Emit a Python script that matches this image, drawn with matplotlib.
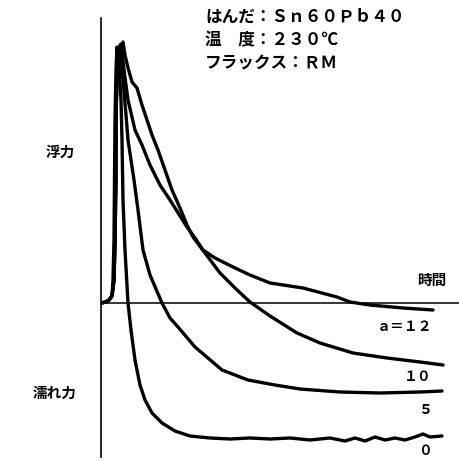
import matplotlib

matplotlib.use("Agg")
import matplotlib.pyplot as plt

plt.rcParams["font.family"] = ["Noto Sans CJK JP", "DejaVu Sans"]

W, H = 459, 461

# wetting balance curves: time (arb.) vs. force (arb.), positive = buoyancy
t_a0 = [0, 0.5, 0.8, 1.1, 1.2, 1.3, 1.35, 1.4, 1.5, 1.6, 1.8, 2.0, 2.1, 2.2, 2.4, 2.7,
        3.0, 3.4, 3.9, 4.4, 5.1, 6.1, 7.4, 8.9, 10.9, 12.9, 14.9, 16.9, 18.9, 20.9,
        22.9, 24.4, 25.4, 26.4, 27.4, 28.4, 29.4, 30.4, 31.4, 32.2, 32.9, 34.1]
f_a0 = [0, 0.1, 0.3, 0.7, 2.3, 6.3, 12.3, 18.3, 23.3, 25.6, 23.8, 20.3, 16.3, 10.3, 5.3, 0,
        -2.7, -5.7, -8.2, -9.7, -11.0, -12.0, -12.8, -13.3, -13.5, -13.6, -13.5, -13.6, -13.5, -13.7,
        -13.5, -13.8, -13.5, -13.8, -13.4, -13.7, -13.5, -13.7, -13.4, -13.1, -13.4, -13.3]

t_a5 = [0, 0.5, 0.8, 1.1, 1.3, 1.4, 1.45, 1.5, 1.6, 1.9, 2.2, 2.5, 2.7, 3.3, 3.7, 4.2,
        4.9, 6.1, 6.9, 7.7, 9.4, 12.1, 14.7, 17.4, 19.9, 23.9, 27.9, 31.9, 34.1]
f_a5 = [0, 0.1, 0.3, 0.7, 2.3, 6.3, 12.3, 18.3, 23.3, 25.8, 22.3, 18.8, 16.3, 12.3, 9.3, 5.3,
        2.8, 0, -1.5, -2.4, -4.4, -6.7, -7.7, -8.2, -8.6, -8.9, -9.0, -8.9, -8.8]

t_a10 = [0, 0.5, 0.8, 1.1, 1.3, 1.4, 1.5, 1.5, 1.6, 2.2, 2.4, 2.7, 3.1, 3.6, 4.1, 4.6,
         5.1, 5.7, 6.4, 7.1, 7.9, 8.6, 9.2, 10.4, 11.9, 13.4, 14.9, 16.9, 19.6, 21.9,
         25.2, 28.6, 31.9, 34.2]
f_a10 = [0, 0.1, 0.3, 0.7, 2.3, 6.3, 12.3, 18.3, 23.3, 26.1, 24.8, 23.5, 22.1, 21.5, 19.8, 18.3,
         16.8, 15.3, 13.3, 11.3, 9.5, 7.8, 6.6, 5.0, 3.0, 1.5, 0.1, -1.3, -3.0, -4.0,
         -5.0, -5.5, -5.9, -6.2]

t_a12 = [0, 0.5, 0.8, 1.1, 1.3, 1.4, 1.5, 1.5, 1.6, 2.0, 2.3, 2.7, 3.4, 4.1, 4.9, 5.9,
         6.9, 8.6, 9.4, 10.2, 11.4, 13.2, 14.9, 16.9, 20.2, 23.6, 24.9, 26.9, 30.2, 33.2]
f_a12 = [0, 0.1, 0.3, 0.7, 2.3, 6.3, 12.3, 18.3, 23.3, 25.9, 23.3, 20.3, 17.3, 15.8, 13.8, 11.8,
         10.3, 7.6, 6.5, 5.3, 4.5, 3.6, 2.8, 2.0, 1.5, 0.6, 0.1, -0.2, -0.5, -0.7]

curves = [(t_a0, f_a0), (t_a5, f_a5), (t_a10, f_a10), (t_a12, f_a12)]
curve_labels = ["０", "５", "１０", "ａ＝１２"]

header_lines = ["はんだ：Ｓｎ６０Ｐｂ４０", "温　度：２３０℃", "フラックス：ＲＭ"]


def px(x, y):
    """Pixel position (from top-left) to figure fraction."""
    return x / W, 1 - y / H


fig = plt.figure(figsize=(W / 100, H / 100), dpi=100)
ax = fig.add_axes([101 / W, 4 / H, 358 / W, 439 / H])
ax.set_xlim(0, 35.8)
ax.set_ylim(-15.4, 28.5)

for side in ("top", "right", "bottom"):
    ax.spines[side].set_visible(False)
ax.spines["left"].set_linewidth(1.2)
ax.set_xticks([])
ax.set_yticks([])
ax.axhline(0, color="black", lw=1.1)

for t, f in curves:
    ax.plot(t, f, color="black", lw=2.4, solid_joinstyle="round", solid_capstyle="round")

# annotations
for i, line in enumerate(header_lines):
    fig.text(*px(205, 17 + 23 * i), line, fontsize=12, fontweight="bold",
             ha="left", va="center")

fig.text(*px(60, 152), "浮力", fontsize=10.5, fontweight="bold", ha="center", va="center")
fig.text(*px(55, 393), "濡れ力", fontsize=10.5, fontweight="bold", ha="center", va="center")
fig.text(*px(432, 280), "時間", fontsize=10.5, fontweight="bold", ha="center", va="center")

label_y = [455, 410, 377, 327]
label_va = ["baseline", "center", "center", "center"]
for lab, y, va in zip(curve_labels, label_y, label_va):
    fig.text(*px(432, y), lab, fontsize=10, fontweight="bold", ha="right", va=va)

fig.savefig("out.png", dpi=100)
